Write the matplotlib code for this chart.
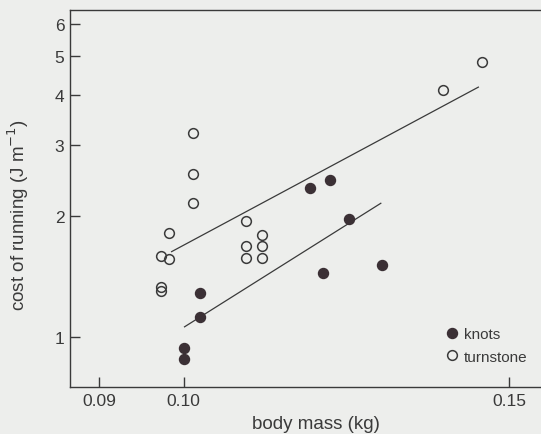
import matplotlib
matplotlib.use('Agg')
import matplotlib.pyplot as plt
from matplotlib.ticker import FixedLocator, NullLocator

plt.rcParams['font.family'] = ['Liberation Sans', 'DejaVu Sans']

# turnstone (open circles)
turn_mass = [0.1011, 0.1011, 0.1011, 0.0982, 0.0972, 0.0982, 0.0972, 0.0972,
             0.1081, 0.1081, 0.1081, 0.1102, 0.1102, 0.1102, 0.1380, 0.1450]
turn_cost = [3.21, 2.54, 2.15, 1.81, 1.59, 1.56, 1.33, 1.30,
             1.94, 1.68, 1.57, 1.79, 1.68, 1.57, 4.11, 4.83]

# knots (filled circles)
knot_mass = [0.1020, 0.1020, 0.1000, 0.1000, 0.1170, 0.1200, 0.1228, 0.1189, 0.1280]
knot_cost = [1.29, 1.12, 0.94, 0.88, 2.34, 2.45, 1.97, 1.44, 1.51]

# regression lines (end points)
turn_fit_x = [0.0985, 0.1443]
turn_fit_y = [1.63, 4.18]
knot_fit_x = [0.1001, 0.1278]
knot_fit_y = [1.06, 2.15]

bg = '#edeeec'
ink = '#3a3a3a'
dot = '#3b3035'

fig = plt.figure(figsize=(5.41, 4.35), dpi=100, facecolor=bg)
ax = fig.add_axes([0.1294, 0.108, 0.8706, 0.8667], facecolor=bg)

ax.plot(turn_fit_x, turn_fit_y, color=ink, lw=0.9)
ax.plot(knot_fit_x, knot_fit_y, color=ink, lw=0.9)
ax.plot(knot_mass, knot_cost, 'o', ms=7.2, color=dot, mec=dot, label='knots')
ax.plot(turn_mass, turn_cost, 'o', ms=7.0, mfc='none', mec=ink, mew=1.1, label='turnstone')

ax.set_xscale('log')
ax.set_yscale('log')
ax.set_xlim(0.0868, 0.156)
ax.set_ylim(0.751, 6.5)

ax.xaxis.set_major_locator(FixedLocator([0.09, 0.10, 0.15]))
ax.xaxis.set_minor_locator(NullLocator())
ax.set_xticklabels(['0.09', '0.10', '0.15'])
ax.yaxis.set_major_locator(FixedLocator([1, 2, 3, 4, 5, 6]))
ax.yaxis.set_minor_locator(NullLocator())
ax.set_yticklabels(['1', '2', '3', '4', '5', '6'])

ax.tick_params(direction='in', length=7, width=1.0, colors=ink, labelsize=12.5, pad=4)
for s in ['left', 'bottom', 'top']:
    ax.spines[s].set_color(ink)
    ax.spines[s].set_linewidth(1.0)
ax.spines['right'].set_visible(False)

ax.set_xlabel('body mass (kg)', fontsize=13.5, color=ink)
ax.xaxis.set_label_coords(0.522, -0.075)
ax.set_ylabel('cost of running (J m$^{-1}$)', fontsize=13.5, color=ink)
ax.yaxis.set_label_coords(-0.083, 0.46)

ax.legend(loc='lower right', bbox_to_anchor=(1.0, 0.025), frameon=False,
          fontsize=11, handletextpad=0.25, labelspacing=0.55, handlelength=1.0,
          labelcolor=ink, markerscale=1.0)

fig.savefig('out.png', dpi=100, facecolor=bg)
